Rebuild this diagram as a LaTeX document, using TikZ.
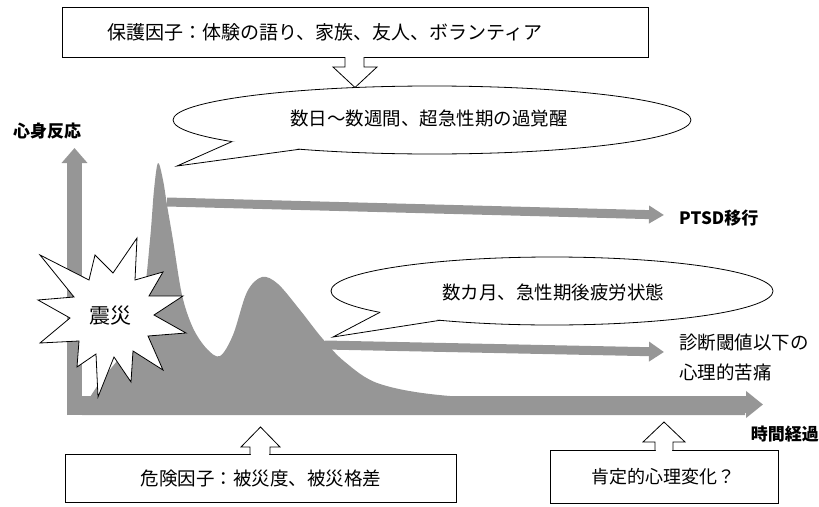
\documentclass[tikz,border=0pt]{standalone}
\usepackage{fontspec}
\newfontfamily\jp{Noto Sans CJK JP}
\usetikzlibrary{arrows.meta}
\definecolor{fillgray}{RGB}{150,150,150}
\begin{document}
\begin{tikzpicture}[x=1pt,y=-1pt,
  txt/.style={font=\jp\fontsize{18.5}{22}\selectfont, inner sep=0pt},
  btxt/.style={font=\jp\bfseries\fontsize{17}{20}\selectfont, inner sep=0pt},
  outl/.style={draw=black, line width=0.8pt},
  gbar/.style={draw=fillgray, line width=#1}]
\useasboundingbox (0,0) rectangle (819,506);

% gray response area
\fill[fillgray] (82,415) -- (82,410) -- plot[smooth,tension=0.55] coordinates {(82,410) (100,382) (128,345) (143,300) (150,240) (154,190) (158,163) (163,180) (167,205) (173,240) (182,295) (193,328) (207,349) (220,356) (233,335) (247,292) (262,277) (278,284) (300,310) (322,338) (345,362) (380,384) (450,396) (587,401) (745,404)} -- (745,415) -- cycle;

% axes
\coordinate (yb) at (74.5,415);
\coordinate (yt) at (74.5,148);
\draw[gbar=15pt, -{Triangle[width=25pt,length=15pt]}] (yb) -- (yt);
\coordinate (xb) at (67,404.5);
\coordinate (xt) at (763,404.5);
\draw[gbar=17pt, -{Triangle[width=26pt,length=17pt]}] (xb) -- (xt);

% labels of axes
\node[btxt] (yl) at (47,131) {心身反応};
\node[btxt, anchor=east] (xl) at (819,434) {時間経過};

% arrows of outcomes
\node[btxt, anchor=west] (ptsd) at (679,218) {PTSD移行};
\coordinate (a1s) at (167,202);
\coordinate (a1e) at (664,215);
\draw[gbar=9pt, -{Triangle[width=17pt,length=15pt]}] (a1s) -- (a1e);

\node[txt, anchor=west] (sub1) at (679,343) {診断閾値以下の};
\node[txt, anchor=west] (sub2) at (679,372) {心理的苦痛};
\coordinate (a2s) at (325,345);
\coordinate (a2e) at (664,352);
\draw[gbar=9pt, -{Triangle[width=19pt,length=15pt]}] (a2s) -- (a2e);

% starburst
\draw[outl, fill=white] (137,238) -- (135,280) -- (163,272) -- (149,296) -- (183,296) -- (154,315) -- (186,333) -- (148,336) -- (163,370) -- (133,351) -- (131,382) -- (114,357) -- (98,397) -- (96,354) -- (77,367) -- (79,341) -- (40,343) -- (70,318) -- (38,300) -- (74,297) -- (40,255) -- (89,280) -- (95,255) -- (113,273) -- cycle;
\node[font=\jp\fontsize{21}{24}\selectfont, inner sep=0pt] (quake) at (110,316) {震災};

% callout 1
\draw[outl, fill=white] (432,120) ellipse [x radius=259pt, y radius=34pt];
\fill[white] (232,141.6) -- (177,166) -- (300,149.2) -- (266,138) -- cycle;
\draw[outl, line join=miter] (232,141.6) -- (177,166) -- (300,149.2);
\node[txt] (c1) at (429,118) {数日～数週間、超急性期の過覚醒};

% callout 2
\draw[outl, fill=white] (552,291) ellipse [x radius=221pt, y radius=34pt];
\fill[white] (380,312.3) -- (333,337) -- (440,320.3) -- (410,310) -- cycle;
\draw[outl, line join=miter] (380,312.3) -- (333,337) -- (440,320.3);
\node[txt] (c2) at (553,292) {数カ月、急性期後疲労状態};

% protective factors box
\draw[outl] (62,7) rectangle (648,57);
\node[txt, font=\jp\fontsize{19}{22}\selectfont] (prot) at (325,32) {保護因子：体験の語り、家族、友人、ボランティア};
\fill[white] (345.6,55.5) rectangle (363.4,58.5);
\draw[outl, fill=white] (345,57) -- (345,67) -- (333,67) -- (355,87.5) -- (377,67) -- (364,67) -- (364,57);

% risk factors box
\draw[outl] (65,454) rectangle (456,502);
\node[txt] (risk) at (261,478) {危険因子：被災度、被災格差};
\fill[white] (250.6,452.5) rectangle (269.4,455.5);
\draw[outl, fill=white] (250,454) -- (250,447) -- (241,447) -- (260.5,427) -- (280,447) -- (270,447) -- (270,454);

% positive change box
\draw[outl] (550,450) rectangle (778,503);
\node[txt, font=\jp\fontsize{18}{22}\selectfont] (pos) at (663,477) {肯定的心理変化？};
\fill[white] (655.6,448.5) rectangle (672.4,451.5);
\draw[outl, fill=white] (655,450) -- (655,442) -- (643,442) -- (664,422) -- (685,442) -- (673,442) -- (673,450);
\end{tikzpicture}
\end{document}
